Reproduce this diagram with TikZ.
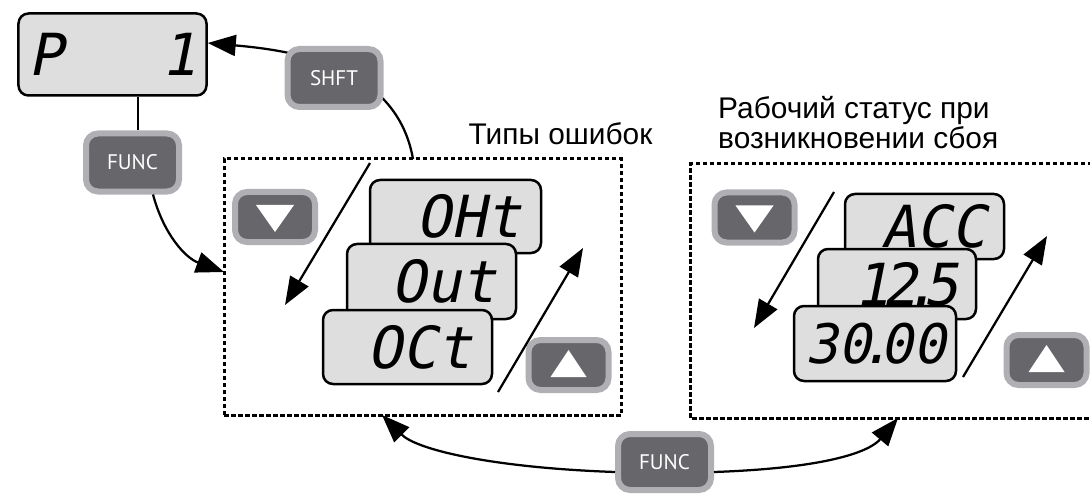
\documentclass[tikz,border=0pt]{standalone}
\usepackage{fontspec}
\setmainfont{Liberation Sans}
\newfontfamily\keyfont{PT Sans}
\newfontfamily\lcdfont{DejaVu Sans Mono}[FakeSlant=0.2]
\usetikzlibrary{arrows.meta}
\definecolor{keyrim}{HTML}{B0B0B4}
\definecolor{keydark}{HTML}{67676B}
\definecolor{lcdfill}{HTML}{DEDEDE}

\begin{document}
\begin{tikzpicture}[x=0.2mm, y=0.2mm, >={Triangle[length=5.6mm,width=4.2mm]},
	every node/.style={font=\fontsize{17}{17.6}\selectfont},
	lcd/.style={draw=black, line width=0.5mm, fill=lcdfill, rounded corners=2mm, align=right, inner ysep=0pt, font=\lcdfont\fontsize{33}{33}\selectfont},
	key/.style={draw=keyrim, line width=1.2mm, fill=keydark, rounded corners=2.4mm, inner sep=0pt, text=white, font=\keyfont\fontsize{12}{14}\selectfont},
	funckey/.style={key, minimum width=18.6mm, minimum height=11.6mm},
	arrowkey/.style={key, minimum width=16mm, minimum height=10mm},
	dashbox/.style={draw, line width=0.6mm, dash pattern=on 0.9mm off 0.5mm, inner sep=0pt, outer sep=0pt},
	link/.style={line width=0.45mm}]
	\useasboundingbox (0,0) rectangle (1090,494);

	% parameter display and FUNC key
	\node[lcd, align=left, text width=33.6mm, minimum height=16.4mm, inner xsep=2mm] (p1) at (112.5,439.5) {P\hfill 1};
	\node[funckey] (funcA) at (132.5,331.5) {FUNC};
	\draw[link] ([xshift=1.1mm]funcA.north) -- ([xshift=1.1mm]funcA.north |- p1.south);

	% fault types
	\node[dashbox, minimum width=79.4mm, minimum height=51.2mm] (box1) at (422.5,207) {};
	\node[anchor=base] (errtitle) at (560.5,349) {Типы ошибок};
	\draw[link,->] ([xshift=4.1mm]funcA.south) to[out=-75,in=160] ([yshift=3mm]box1.west);
	\draw[link,->] ([xshift=-1.9mm]box1.north) to[out=100,in=-5] ([yshift=2.3mm]p1.east);
	\node[funckey] (shft) at (334,416) {SHFT};

	\node[lcd, text width=26.2mm, minimum height=14.6mm, inner xsep=4mm] (oht) at (455.5,277.5) {OHt};
	\node[lcd, text width=25.8mm, minimum height=15mm, inner xsep=4mm] (out) at (431.5,212.5) {Out};
	\node[lcd, text width=25.8mm, minimum height=14.8mm, inner xsep=4mm] (oct) at (407.5,147) {OCt};

	% operating status at fault
	\coordinate (box2nw) at (690,330);
	\coordinate (box2sw) at (690,76);
	\draw[dashbox] (1092,330) -- (box2nw) -- (box2sw) -- (1092,76);
	\node[anchor=base west, align=left] (statetitle) at (712,345) {Рабочий статус при\\возникновении сбоя};

	\node[lcd, text width=24.8mm, minimum height=13mm, inner xsep=3.5mm] (acc) at (924.5,267.5) {ACC};
	\node[lcd, text width=24.6mm, minimum height=14mm, inner xsep=3.5mm] (v125) at (897,210) {1\kern-.12em2\kern-.25em.\kern-.25em5};
	\node[lcd, text width=28.4mm, minimum height=15mm, inner xsep=2mm, font=\lcdfont\fontsize{31}{31}\selectfont] (v3000) at (875,150.5) {30\kern-.22em.\kern-.22em00};

	% up/down keys
	\node[arrowkey] (dn1) at (275,277) {};
	\node[arrowkey] (up1) at (568.5,129) {};
	\node[arrowkey] (dn2) at (754.5,276.5) {};
	\node[arrowkey] (up2) at (1046.5,134) {};
	\foreach \k in {dn1,dn2}
		\fill[white] ([shift={(-19,12)}]\k.center) -- ([shift={(19,12)}]\k.center) -- ([shift={(0,-15)}]\k.center) -- cycle;
	\foreach \k in {up1,up2}
		\fill[white] ([shift={(-18,-12)}]\k.center) -- ([shift={(18,-12)}]\k.center) -- ([shift={(0,15)}]\k.center) -- cycle;

	\coordinate (dn1a) at (370,331);
	\coordinate (dn1b) at (285,189);
	\coordinate (up1a) at (498,102);
	\coordinate (up1b) at (583,246);
	\coordinate (dn2a) at (834,302);
	\coordinate (dn2b) at (754,166);
	\coordinate (up2a) at (963,117);
	\coordinate (up2b) at (1047,258);
	\draw[link,->] (dn1a) -- (dn1b);
	\draw[link,->] (up1a) -- (up1b);
	\draw[link,->] (dn2a) -- (dn2b);
	\draw[link,->] (up2a) -- (up2b);

	% FUNC between the two groups
	\node[funckey, minimum height=11.2mm] (funcB) at (664.5,32) {FUNC};
	\coordinate (box2s) at (898,76);
	\draw[link,->] ([yshift=-2mm]funcB.west) to[out=178,in=-45,out distance=24mm,in distance=10mm] ([xshift=-8.1mm]box1.south);
	\draw[link,->] ([yshift=-2mm]funcB.east) to[out=2,in=-130,out distance=22mm,in distance=9mm] (box2s);
\end{tikzpicture}
\end{document}
